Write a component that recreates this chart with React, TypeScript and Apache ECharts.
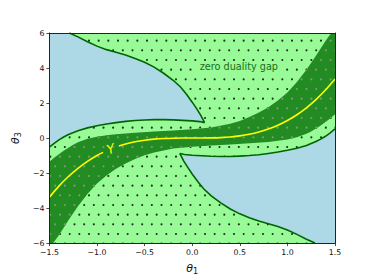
import React, { useEffect, useRef } from 'react';
import * as echarts from 'echarts';

type P = [number, number];

const xTickValues = [-1.5, -1.0, -0.5, 0.0, 0.5, 1.0, 1.5];
const xTickLabels = ['−1.5', '−1.0', '−0.5', '0.0', '0.5', '1.0', '1.5'];
const yTickValues = [-6, -4, -2, 0, 2, 4, 6];
const yTickLabels = ['−6', '−4', '−2', '0', '2', '4', '6'];

const plotCorners: P[] = [[-1.5, -6], [1.5, -6], [1.5, 6], [-1.5, 6]];

// dark band: upper boundary (left → right) and lower boundary (left → right)
const bandUpper: P[] = [
  [-1.5, -1.36], [-1.45, -1.12], [-1.4, -0.92], [-1.35, -0.72], [-1.3, -0.55], [-1.25, -0.38],
  [-1.2, -0.24], [-1.1, -0.04], [-1.0, 0.08], [-0.9, 0.16], [-0.8, 0.22], [-0.6, 0.3],
  [-0.4, 0.37], [-0.2, 0.43], [0.0, 0.5], [0.2, 0.6], [0.4, 0.82], [0.5, 0.98], [0.6, 1.2],
  [0.7, 1.46], [0.8, 1.76], [0.9, 2.14], [1.0, 2.6], [1.1, 3.2], [1.2, 3.9], [1.3, 4.7],
  [1.4, 5.55], [1.46, 6.0],
];
const bandLower: P[] = [
  [-1.46, -6.0], [-1.4, -5.55], [-1.3, -4.7], [-1.2, -3.9], [-1.1, -3.2], [-1.0, -2.6],
  [-0.9, -2.14], [-0.8, -1.76], [-0.7, -1.46], [-0.6, -1.2], [-0.5, -0.98], [-0.4, -0.82],
  [-0.2, -0.6], [0.0, -0.5], [0.2, -0.43], [0.4, -0.37], [0.6, -0.3], [0.8, -0.22],
  [0.9, -0.16], [1.0, -0.08], [1.1, 0.04], [1.2, 0.24], [1.25, 0.38], [1.3, 0.55],
  [1.35, 0.72], [1.4, 0.92], [1.45, 1.12], [1.5, 1.36],
];

// upper-left blue region: outer edge (left edge → tip) and tongue edge (tip → top edge)
const blueTopOuter: P[] = [
  [-1.5, -0.52], [-1.45, -0.3], [-1.4, -0.1], [-1.35, 0.06], [-1.3, 0.2], [-1.2, 0.42],
  [-1.1, 0.58], [-1.0, 0.7], [-0.9, 0.8], [-0.8, 0.88], [-0.7, 0.95], [-0.6, 1.0],
  [-0.5, 1.03], [-0.4, 1.05], [-0.3, 1.05], [-0.2, 1.04], [-0.1, 1.01], [0.0, 0.98],
  [0.08, 0.94], [0.13, 0.88],
];
const blueTopTongue: P[] = [
  [0.13, 0.88], [0.09, 1.3], [0.05, 1.65], [0.0, 2.05], [-0.06, 2.5], [-0.12, 2.9],
  [-0.2, 3.3], [-0.3, 3.7], [-0.4, 4.05], [-0.5, 4.33], [-0.6, 4.55], [-0.7, 4.74],
  [-0.8, 4.9], [-0.9, 5.05], [-1.0, 5.25], [-1.1, 5.5], [-1.2, 5.78], [-1.29, 6.0],
];
// lower-right blue region
const blueBottomOuter: P[] = [
  [1.5, 0.52], [1.45, 0.3], [1.4, 0.1], [1.35, -0.06], [1.3, -0.2], [1.2, -0.42],
  [1.1, -0.58], [1.0, -0.7], [0.9, -0.8], [0.8, -0.88], [0.7, -0.95], [0.6, -1.0],
  [0.5, -1.03], [0.4, -1.05], [0.3, -1.05], [0.2, -1.04], [0.1, -1.01], [0.0, -0.98],
  [-0.08, -0.94], [-0.13, -0.88],
];
const blueBottomTongue: P[] = [
  [-0.13, -0.88], [-0.09, -1.3], [-0.05, -1.65], [0.0, -2.05], [0.06, -2.5], [0.12, -2.9],
  [0.2, -3.3], [0.3, -3.7], [0.4, -4.05], [0.5, -4.33], [0.6, -4.55], [0.7, -4.74],
  [0.8, -4.9], [0.9, -5.05], [1.0, -5.25], [1.1, -5.5], [1.2, -5.78], [1.29, -6.0],
];
const topLeftCorner: P = [-1.5, 6];
const bottomRightCorner: P = [1.5, -6];

// Y curve (yellow), broken around its label
const curveYLeft: P[] = [
  [-1.5, -3.375], [-1.4, -2.744], [-1.3, -2.197], [-1.2, -1.728], [-1.1, -1.331],
  [-1.0, -1.0], [-0.936, -0.82],
];
const curveYRight: P[] = [
  [-0.77, -0.457], [-0.7, -0.343], [-0.6, -0.216], [-0.5, -0.125], [-0.4, -0.064],
  [-0.3, -0.027], [-0.2, -0.008], [-0.1, -0.001], [0.0, 0.0], [0.1, 0.001], [0.2, 0.008],
  [0.3, 0.027], [0.4, 0.064], [0.5, 0.125], [0.6, 0.216], [0.7, 0.343], [0.8, 0.512],
  [0.9, 0.729], [1.0, 1.0], [1.1, 1.331], [1.2, 1.728], [1.3, 2.197], [1.4, 2.744],
  [1.5, 3.375],
];

const regionLabel = { text: 'zero duality gap', at: [0.49, 4.09] as P };
const curveLabel = { text: 'Y', at: [-0.855, -0.62] as P };

const FONT = 'DejaVu Sans';

function makeDots(color: string, r: number) {
  const w = 29;
  const h = 58;
  const c = document.createElement('canvas');
  c.width = w;
  c.height = h;
  const ctx = c.getContext('2d')!;
  ctx.fillStyle = color;
  for (let row = 0; row < 6; row++) {
    for (let col = 0; col < 3; col++) {
      const x = col * (w / 3) + (row % 2 ? w / 6 : 0) + 2;
      const y = row * (h / 6) + 2;
      ctx.beginPath();
      ctx.arc(x, y, r, 0, Math.PI * 2);
      ctx.fill();
    }
  }
  return { image: c, repeat: 'repeat', imageWidth: w, imageHeight: h };
}

function polySeries(pts: P[], style: any) {
  return {
    type: 'custom',
    coordinateSystem: 'cartesian2d',
    silent: true,
    data: [[0, 0]],
    renderItem: (_p: any, api: any) => ({
      type: 'polygon',
      shape: { points: pts.map((q) => api.coord(q)) },
      style,
    }),
  };
}

function lineSeries(pts: P[], style: any) {
  return {
    type: 'custom',
    coordinateSystem: 'cartesian2d',
    silent: true,
    data: [[0, 0]],
    renderItem: (_p: any, api: any) => ({
      type: 'polyline',
      shape: { points: pts.map((q) => api.coord(q)) },
      style: { fill: null, ...style },
    }),
  };
}

function textSeries(at: P, style: any, rotation = 0) {
  return {
    type: 'custom',
    coordinateSystem: 'cartesian2d',
    silent: true,
    data: [[0, 0]],
    renderItem: (_p: any, api: any) => {
      const c = api.coord(at);
      return {
        type: 'text',
        x: c[0],
        y: c[1],
        rotation,
        style: { align: 'center', verticalAlign: 'middle', fontFamily: FONT, ...style },
      };
    },
  };
}

export default function App() {
  const ref = useRef<HTMLDivElement>(null);
  useEffect(() => {
    document.body.style.margin = '0';
    if (!ref.current) return;
    const chart = echarts.init(ref.current, null, { renderer: 'svg' });
    const darkDots = makeDots('#1c2e1c', 1.05);
    const greyDots = makeDots('#7f9a7f', 1.05);

    const bandPoly: P[] = [
      ...bandUpper,
      [1.5, 6],
      ...bandLower.slice().reverse(),
      [-1.5, -6],
    ];
    const blueTop: P[] = [...blueTopOuter, ...blueTopTongue.slice(1), topLeftCorner];
    const blueBottom: P[] = [...blueBottomOuter, ...blueBottomTongue.slice(1), bottomRightCorner];

    const fmt = (vals: number[], labels: string[]) => (v: number) => {
      const i = vals.findIndex((t) => Math.abs(t - v) < 1e-9);
      return i >= 0 ? labels[i] : '';
    };

    const axisCommon = {
      axisLine: { show: true, onZero: false, lineStyle: { color: '#222', width: 1 } },
      axisTick: { show: true, length: 3, lineStyle: { color: '#222', width: 0.8 } },
      splitLine: { show: false },
      z: 10,
    };

    const nameRich = {
      t: { fontSize: 11, fontStyle: 'italic', fontFamily: FONT, color: '#111', lineHeight: 14 },
      s: { fontSize: 8, fontFamily: FONT, color: '#111', lineHeight: 14, padding: [6, 0, 0, 0] },
    };

    chart.setOption({
      animation: false,
      grid: { left: 46, top: 33, width: 289, height: 215, containLabel: false },
      xAxis: [
        {
          type: 'value',
          min: -1.5,
          max: 1.5,
          interval: 0.5,
          position: 'bottom',
          ...axisCommon,
          axisLabel: {
            margin: 5,
            fontSize: 7.8,
            fontFamily: FONT,
            color: '#111',
            formatter: fmt(xTickValues, xTickLabels),
          },
          name: '{t|θ}{s|1}',
          nameLocation: 'middle',
          nameGap: 14,
          nameTextStyle: { rich: nameRich },
        },
        {
          type: 'value',
          min: -1.5,
          max: 1.5,
          interval: 0.5,
          position: 'top',
          ...axisCommon,
          axisTick: { show: false },
          axisLabel: { show: false },
        },
      ],
      yAxis: [
        {
          type: 'value',
          min: -6,
          max: 6,
          interval: 2,
          position: 'left',
          ...axisCommon,
          axisLabel: {
            margin: 5,
            fontSize: 7.8,
            fontFamily: FONT,
            color: '#111',
            formatter: fmt(yTickValues, yTickLabels),
          },
          name: '{t|θ}{s|3}',
          nameLocation: 'middle',
          nameRotate: 90,
          nameGap: 16,
          nameTextStyle: { rich: nameRich },
        },
        {
          type: 'value',
          min: -6,
          max: 6,
          interval: 2,
          position: 'right',
          ...axisCommon,
          axisTick: { show: false },
          axisLabel: { show: false },
        },
      ],
      series: [
        polySeries(plotCorners, { fill: '#98fb98' }),
        polySeries(plotCorners, { fill: darkDots }),
        polySeries(bandPoly, { fill: '#228b22' }),
        polySeries(bandPoly, { fill: greyDots }),
        polySeries(blueTop, { fill: '#add8e6' }),
        polySeries(blueBottom, { fill: '#add8e6' }),
        lineSeries(blueTopOuter, { stroke: '#006400', lineWidth: 1.6 }),
        lineSeries(blueTopTongue, { stroke: '#006400', lineWidth: 1.6 }),
        lineSeries(blueBottomOuter, { stroke: '#006400', lineWidth: 1.6 }),
        lineSeries(blueBottomTongue, { stroke: '#006400', lineWidth: 1.6 }),
        {
          type: 'line',
          data: curveYLeft,
          smooth: 0.3,
          showSymbol: false,
          silent: true,
          lineStyle: { color: '#ffff00', width: 1.6 },
        },
        {
          type: 'line',
          data: curveYRight,
          smooth: 0.3,
          showSymbol: false,
          silent: true,
          lineStyle: { color: '#ffff00', width: 1.6 },
        },
        textSeries(regionLabel.at, {
          text: regionLabel.text,
          fill: '#1a6e1a',
          fontSize: 9.7,
          backgroundColor: '#98fb98',
          padding: [0, 1, 0, 1],
        }),
        textSeries(curveLabel.at, {
          text: curveLabel.text,
          fill: '#ffff00',
          fontSize: 13,
          fontFamily: 'DejaVu Sans',
          fontStyle: 'oblique',
        }, 0.3),
      ],
    });
    return () => chart.dispose();
  }, []);
  return <div ref={ref} style={{ width: 373, height: 280 }} />;
}
